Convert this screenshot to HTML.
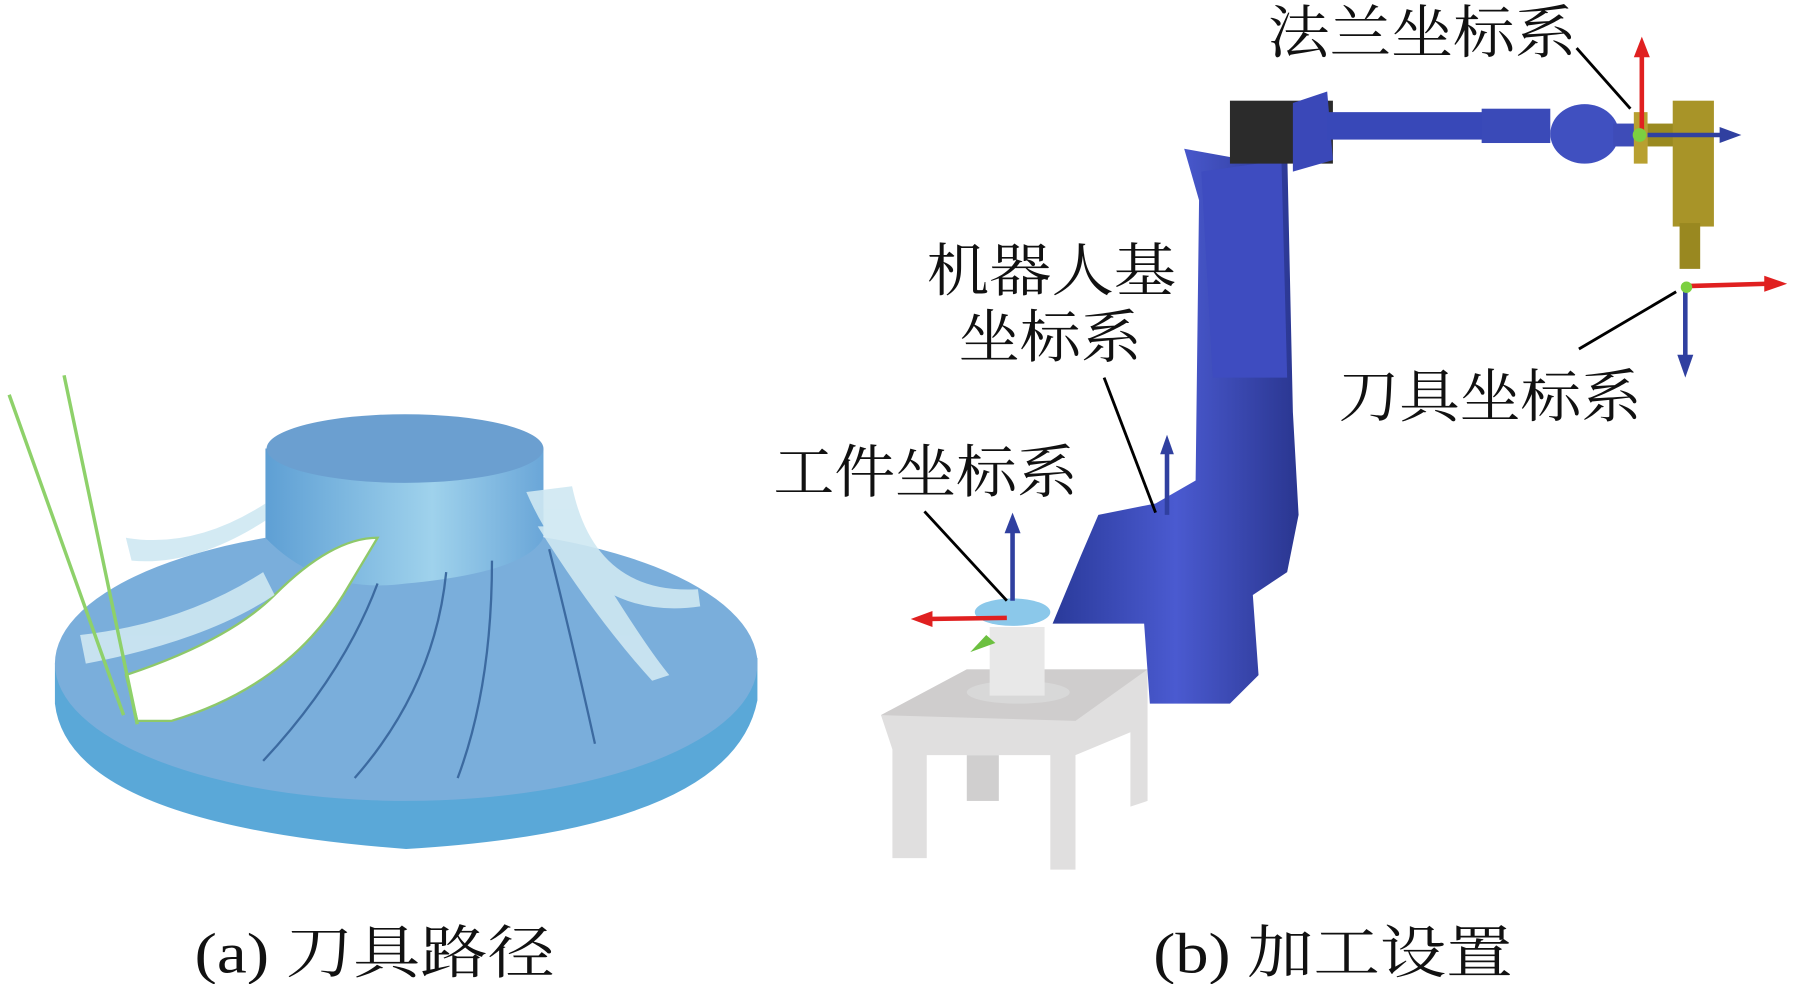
<!DOCTYPE html>
<html><head><meta charset="utf-8"><style>
html,body{margin:0;padding:0;background:#fff;}
svg{display:block}
text{font-family:"Liberation Serif","Noto Serif CJK SC","Noto Sans CJK SC",serif;fill:#111}
</style></head><body>
<svg width="1794" height="984" viewBox="0 0 1568 860" preserveAspectRatio="none" xmlns="http://www.w3.org/2000/svg">
<defs>
<linearGradient id="hub" x1="0" y1="0" x2="1" y2="0"><stop offset="0" stop-color="#5e9fd4"/><stop offset=".6" stop-color="#9fd2ec"/><stop offset="1" stop-color="#6aa6d8"/></linearGradient>
<linearGradient id="blue" x1="0" y1="0" x2="1" y2="0"><stop offset="0" stop-color="#2a3a9a"/><stop offset=".5" stop-color="#4a5ad0"/><stop offset="1" stop-color="#2a3690"/></linearGradient>
</defs>
<!-- impeller -->
<path d="M48 580 L48 615 Q60 720 355 742 Q640 725 662 612 L662 575 Z" fill="#5aa8d8"/>
<ellipse cx="355" cy="580" rx="307" ry="120" fill="#7aaedb"/>
<path d="M232 392 L232 470 Q280 520 355 510 Q460 500 475 470 L475 392 Z" fill="url(#hub)"/>
<ellipse cx="354" cy="392" rx="121" ry="30" fill="#6b9fd0"/>
<path d="M120 630 L110 590 Q200 560 240 520 Q290 470 330 470 L300 520 Q250 600 150 630 Z" fill="#fff" stroke="#8ec86a" stroke-width="2"/>
<g fill="#cfe8f2" opacity=".9">
<path d="M70 555 L75 580 Q180 560 240 520 L230 500 Q160 545 70 555Z"/>
<path d="M460 430 L500 425 Q520 520 610 515 L612 530 Q510 545 460 430Z"/>
<path d="M470 460 L500 460 Q560 560 585 590 L570 595 Q520 540 470 460Z"/>
<path d="M110 470 Q170 480 232 440 L232 455 Q170 495 115 490Z"/>
</g>
<g stroke="#3c6aa0" stroke-width="2" fill="none">
<path d="M230 665 Q300 590 330 510"/><path d="M310 680 Q380 600 390 500"/><path d="M400 680 Q430 600 430 490"/><path d="M520 650 Q500 560 480 480"/>
</g>
<line x1="8" y1="345" x2="108" y2="625" stroke="#8ed16a" stroke-width="3"/>
<line x1="56" y1="328" x2="120" y2="633" stroke="#8ed16a" stroke-width="3"/>
<!-- table -->
<path d="M770 625 L845 585 L1003 585 L1003 700 L988 705 L988 640 L940 660 L940 760 L918 760 L918 660 L810 660 L810 750 L780 750 L780 655 Z" fill="#e0dfdf"/>
<path d="M770 625 L845 585 L1003 585 L940 630 Z" fill="#cfcdcd"/>
<rect x="845" y="660" width="28" height="40" fill="#d0cfcf"/>
<ellipse cx="890" cy="605" rx="45" ry="10" fill="#d8d8d8"/>
<rect x="865" y="548" width="48" height="60" fill="#e8e8e8"/>
<ellipse cx="885" cy="535" rx="33" ry="12" fill="#8bc8ea"/>
<!-- robot -->
<path d="M920 545 L945 485 L960 450 L1010 440 L1045 420 L1048 175 L1035 130 L1090 140 L1125 130 L1130 360 L1135 450 L1125 500 L1095 520 L1100 590 L1075 615 L1005 615 L1000 545 Z" fill="url(#blue)"/>
<path d="M1050 150 L1120 140 L1125 330 L1060 330 Z" fill="#3e4cc0"/>
<rect x="1075" y="88" width="90" height="55" fill="#2b2b2b"/>
<path d="M1130 90 L1160 80 L1165 140 L1130 150Z" fill="#3a48b8"/>
<rect x="1160" y="98" width="140" height="24" fill="#3848b8"/>
<rect x="1295" y="95" width="60" height="30" fill="#3a4ab8"/>
<ellipse cx="1385" cy="117" rx="30" ry="26" fill="#4050c0"/>
<rect x="1410" y="108" width="20" height="20" fill="#3e4cb8"/>
<rect x="1428" y="98" width="12" height="45" fill="#b8a030"/>
<rect x="1440" y="108" width="25" height="20" fill="#9a8a20"/>
<rect x="1462" y="88" width="36" height="110" fill="#a89428"/>
<rect x="1468" y="195" width="18" height="40" fill="#998820"/>
<!-- axes -->
<g stroke-width="4">
<line x1="1435" y1="118" x2="1435" y2="45" stroke="#e02020"/><line x1="1440" y1="118" x2="1510" y2="118" stroke="#3040a0"/>
<line x1="1475" y1="250" x2="1545" y2="248" stroke="#e02020"/><line x1="1473" y1="250" x2="1473" y2="315" stroke="#3040a0"/>
<line x1="885" y1="525" x2="885" y2="460" stroke="#3040a0"/><line x1="880" y1="540" x2="810" y2="541" stroke="#e02020"/>
<line x1="1020" y1="450" x2="1020" y2="393" stroke="#3040a0"/>
</g>
<g>
<polygon points="1435,32 1428,50 1442,50" fill="#e02020"/><polygon points="1522,118 1503,111 1503,125" fill="#3040a0"/>
<polygon points="1562,248 1542,241 1542,255" fill="#e02020"/><polygon points="1473,330 1466,310 1480,310" fill="#3040a0"/>
<polygon points="885,448 878,466 892,466" fill="#3040a0"/><polygon points="796,541 815,534 815,548" fill="#e02020"/>
<polygon points="1020,380 1014,397 1026,397" fill="#3040a0"/>
<circle cx="1433" cy="118" r="6" fill="#7cd040"/><circle cx="1474" cy="251" r="5" fill="#7cd040"/>
<path d="M848 570 L862 555 L870 562 Z" fill="#6cc040"/>
</g>
<!-- leader lines -->
<g stroke="#000" stroke-width="2.5">
<line x1="1378" y1="42" x2="1425" y2="95"/><line x1="1465" y1="255" x2="1380" y2="305"/>
<line x1="965" y1="330" x2="1010" y2="448"/><line x1="808" y1="447" x2="880" y2="525"/>
</g>
<g font-size="50">
<text x="1108" y="46" textLength="270" lengthAdjust="spacingAndGlyphs">法兰坐标系</text>
<text x="1170" y="364" textLength="265" lengthAdjust="spacingAndGlyphs">刀具坐标系</text>
<text x="810" y="254" textLength="218" lengthAdjust="spacingAndGlyphs">机器人基</text>
<text x="838" y="312" textLength="160" lengthAdjust="spacingAndGlyphs">坐标系</text>
<text x="676" y="430" textLength="266" lengthAdjust="spacingAndGlyphs">工件坐标系</text>
<text x="170" y="850" textLength="315" lengthAdjust="spacingAndGlyphs">(a) 刀具路径</text>
<text x="1008" y="850" textLength="314" lengthAdjust="spacingAndGlyphs">(b) 加工设置</text>
</g>
</svg>
</body></html>
